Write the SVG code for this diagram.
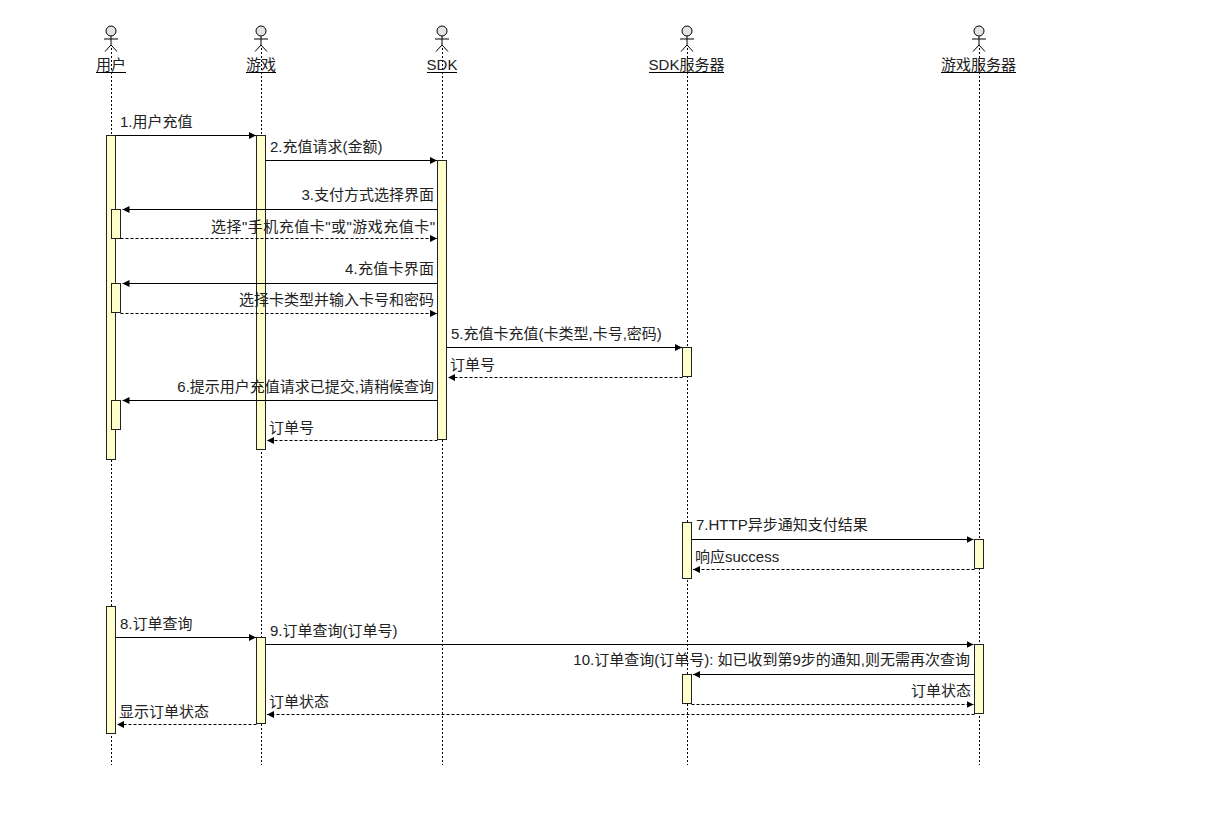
<svg xmlns="http://www.w3.org/2000/svg" width="1212" height="814" viewBox="0 0 1212 814">
<style>
text{font-family:"Liberation Sans","Noto Sans CJK SC",sans-serif;font-size:15px;fill:#222}
.n{text-anchor:middle}
.e{text-anchor:end}
.life{stroke:#000;stroke-width:1;stroke-dasharray:2 2;fill:none}
.act{fill:#ffffcc;stroke:#222;stroke-width:1}
.stick{stroke:#000;stroke-width:1;fill:none}
.head{fill:#e4e4e4;stroke:#000;stroke-width:1}
.ul{stroke:#000;stroke-width:1}
.s{stroke:#000;stroke-width:1;fill:none;marker-end:url(#ah)}
.d{stroke:#000;stroke-width:1;stroke-dasharray:3 2;fill:none;marker-end:url(#ah)}
</style>
<defs>
<marker id="ah" markerUnits="userSpaceOnUse" markerWidth="8" markerHeight="8" refX="7" refY="4" orient="auto"><path d="M0 0.5L7 4L0 7.5Z" fill="#000"/></marker>
<g id="actor"><circle class="head" cx="0" cy="31" r="5"/><path class="stick" d="M0 36V45M-7 39H7M0 45L-6 51.5M0 45L6 51.5"/></g>
</defs>
<rect width="1212" height="814" fill="#fff"/>
<g id="node-user">
<path class="life" d="M111.500 48V765"/><use href="#actor" x="111"/>
<text class="n" x="111" y="70">用户</text><path class="ul" d="M96 72.500H126"/>
<rect class="act" x="106.500" y="135.500" width="9" height="324"/>
<rect class="act" x="111.500" y="209.500" width="9" height="29"/>
<rect class="act" x="111.500" y="283.500" width="9" height="29"/>
<rect class="act" x="111.500" y="400.500" width="9" height="29"/>
<rect class="act" x="106.500" y="606.500" width="9" height="127"/>
</g>
<g id="node-game">
<path class="life" d="M261.500 48V765"/><use href="#actor" x="261"/>
<text class="n" x="261" y="70">游戏</text><path class="ul" d="M246 72.500H276"/>
<rect class="act" x="256.500" y="135.500" width="9" height="314"/>
<rect class="act" x="256.500" y="637.500" width="9" height="86"/>
</g>
<g id="node-sdk">
<path class="life" d="M442.500 48V765"/><use href="#actor" x="442"/>
<text class="n" x="442" y="70">SDK</text><path class="ul" d="M427 72.500H457"/>
<rect class="act" x="437.500" y="160.500" width="9" height="279"/>
</g>
<g id="node-sdkserver">
<path class="life" d="M687.500 48V765"/><use href="#actor" x="687"/>
<text class="n" x="686.500" y="70">SDK服务器</text><path class="ul" d="M649 72.500H724"/>
<rect class="act" x="682.500" y="347.500" width="9" height="29"/>
<rect class="act" x="682.500" y="522.500" width="9" height="56"/>
<rect class="act" x="682.500" y="674.500" width="9" height="29"/>
</g>
<g id="node-gameserver">
<path class="life" d="M979.500 48V765"/><use href="#actor" x="979"/>
<text class="n" x="978.500" y="70">游戏服务器</text><path class="ul" d="M941 72.500H1016"/>
<rect class="act" x="974.500" y="539.500" width="9" height="29"/>
<rect class="act" x="974.500" y="644.500" width="9" height="69"/>
</g>
<g id="connectors">
<path class="s" d="M115.500 135.500H256"/><text x="120" y="127">1.用户充值</text>
<path class="s" d="M265.500 160.500H437"/><text x="270" y="152">2.充值请求(金额)</text>
<path class="s" d="M437.500 209.500H122.500"/><text class="e" x="434" y="200">3.支付方式选择界面</text>
<path class="d" d="M120.500 238.500H437"/><text x="211" y="232" textLength="224" lengthAdjust="spacing">选择"手机充值卡"或"游戏充值卡"</text>
<path class="s" d="M437.500 283.500H122.500"/><text x="345" y="274" textLength="89" lengthAdjust="spacing">4.充值卡界面</text>
<path class="d" d="M120.500 313.500H437"/><text class="e" x="434" y="305">选择卡类型并输入卡号和密码</text>
<path class="s" d="M446.500 347.500H682"/><text x="451" y="339">5.充值卡充值(卡类型,卡号,密码)</text>
<path class="d" d="M682.500 377.500H448"/><text x="450" y="370">订单号</text>
<path class="s" d="M437.500 400.500H122.500"/><text class="e" x="434" y="392">6.提示用户充值请求已提交,请稍候查询</text>
<path class="d" d="M437.500 440.500H267"/><text x="269" y="433">订单号</text>
<path class="s" d="M691.500 539.500H973.500"/><text x="696" y="530">7.HTTP异步通知支付结果</text>
<path class="d" d="M974.500 569.500H693"/><text x="695" y="562">响应success</text>
<path class="s" d="M115.500 637.500H256"/><text x="120" y="629">8.订单查询</text>
<path class="s" d="M265.500 644.500H973.500"/><text x="270" y="636">9.订单查询(订单号)</text>
<path class="s" d="M974.500 674.500H693"/><text class="e" x="970" y="665">10.订单查询(订单号): 如已收到第9步的通知,则无需再次查询</text>
<path class="d" d="M691.500 704.500H973.500"/><text class="e" x="971" y="696">订单状态</text>
<path class="d" d="M974.500 714.500H267"/><text x="269" y="707">订单状态</text>
<path class="d" d="M256.500 724.500H117"/><text x="119" y="717">显示订单状态</text>
</g>
</svg>
